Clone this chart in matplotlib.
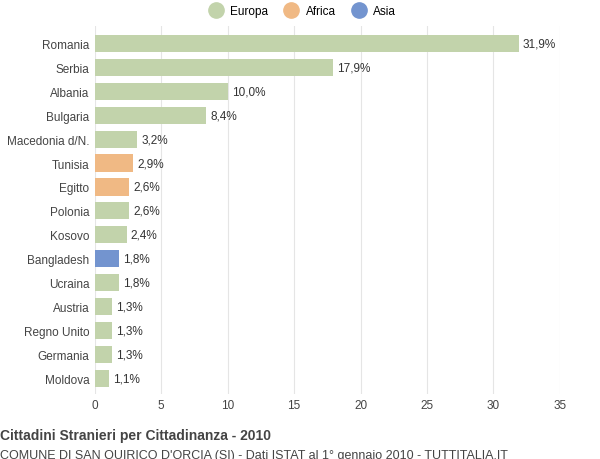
import matplotlib
matplotlib.use("Agg")
import matplotlib.pyplot as plt
from matplotlib.lines import Line2D

plt.rcParams["font.family"] = "Liberation Sans"

countries = ["Romania","Serbia","Albania","Bulgaria","Macedonia d/N.","Tunisia","Egitto","Polonia","Kosovo","Bangladesh","Ucraina","Austria","Regno Unito","Germania","Moldova"]
values = [31.9,17.9,10.0,8.4,3.2,2.9,2.6,2.6,2.4,1.8,1.8,1.3,1.3,1.3,1.1]
continents = ["Europa","Europa","Europa","Europa","Europa","Africa","Africa","Europa","Europa","Asia","Europa","Europa","Europa","Europa","Europa"]
colors = {"Europa":"#c2d3ab","Africa":"#f0b984","Asia":"#7394cf"}
xticks = [0,5,10,15,20,25,30,35]

fig = plt.figure(figsize=(6,4.6), dpi=100)
ax = fig.add_axes([0.158,0.142,0.775,0.8])
y = list(range(len(countries)))
ax.barh(y, values, height=0.72, color=[colors[c] for c in continents])
for yi, v in zip(y, values):
    ax.text(v+0.3, yi, f"{v:.1f}".replace(".",",") + "%", va="center", ha="left", fontsize=8.5, color="#333333")
ax.set_yticks(y)
ax.set_yticklabels(countries, fontsize=8.5, color="#444444")
ax.set_ylim(len(countries)-0.35, -0.75)
ax.set_xlim(0,35)
ax.set_xticks(xticks)
ax.set_xticklabels([str(t) for t in xticks], fontsize=8.5, color="#444444")
ax.grid(axis="x", color="#e5e5e5", linewidth=0.8)
ax.set_axisbelow(True)
for s in ax.spines.values():
    s.set_visible(False)
ax.tick_params(length=0, pad=4)
handles = [Line2D([], [], marker="o", linestyle="", markersize=11, color=colors[k], label=k) for k in ["Europa","Africa","Asia"]]
fig.legend(handles=handles, loc="upper center", bbox_to_anchor=(0.5,1.01), ncol=3, frameon=False,
           fontsize=8.5, handletextpad=0.2, columnspacing=1.0)
fig.text(0.0, 0.043, "Cittadini Stranieri per Cittadinanza - 2010", fontsize=10, fontweight="bold", color="#444444")
fig.text(0.0, 0.003, "COMUNE DI SAN QUIRICO D'ORCIA (SI) - Dati ISTAT al 1° gennaio 2010 - TUTTITALIA.IT", fontsize=9, color="#444444")
fig.savefig("out.png", dpi=100)
